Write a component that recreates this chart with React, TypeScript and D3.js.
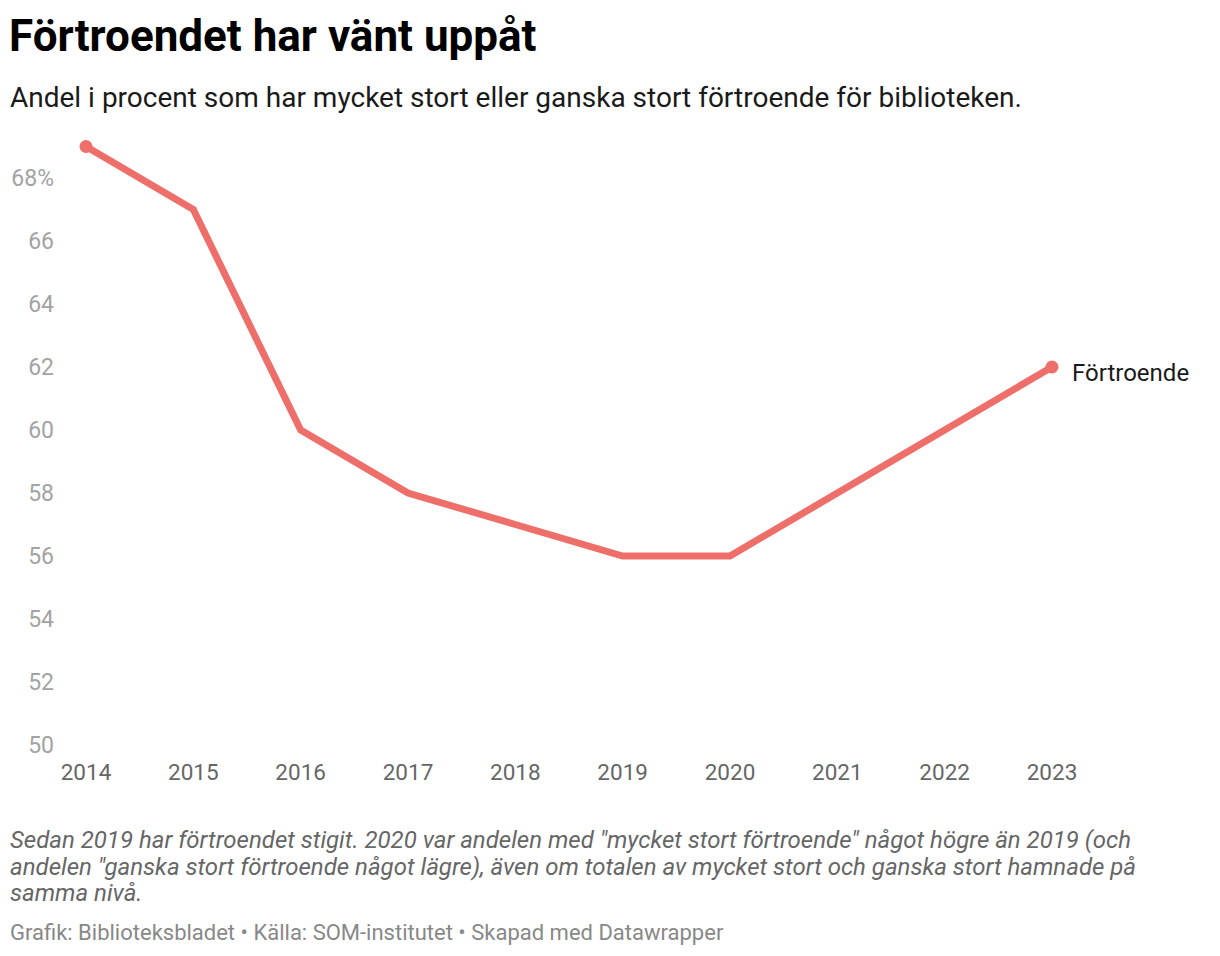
import React from "react";
import * as d3 from "d3";

const years = [2014, 2015, 2016, 2017, 2018, 2019, 2020, 2021, 2022, 2023];
const values = [69, 67, 60, 58, 57, 56, 56, 58, 60, 62];
const yTicks = [50, 52, 54, 56, 58, 60, 62, 64, 66, 68];
const seriesName = "Förtroende";

const title = "Förtroendet har vänt uppåt";
const subtitle = "Andel i procent som har mycket stort eller ganska stort förtroende för biblioteken.";
const notes = [
  'Sedan 2019 har förtroendet stigit. 2020 var andelen med "mycket stort förtroende" något högre än 2019 (och',
  'andelen "ganska stort förtroende något lägre), även om totalen av mycket stort och ganska stort hamnade på',
  "samma nivå.",
];
const footer = "Grafik: Biblioteksbladet • Källa: SOM-institutet • Skapad med Datawrapper";

export default function App() {
  const W = 1220;
  const H = 956;
  const x = d3.scaleLinear().domain([2014, 2023]).range([86, 1052]);
  const y = d3.scaleLinear().domain([50, 68]).range([745, 178]);
  const line = d3
    .line<number>()
    .x((_, i) => x(years[i]))
    .y((d) => y(d));
  const color = "#ee6f6a";
  const font = "Roboto, sans-serif";
  const last = values.length - 1;

  return (
    <div style={{ position: "absolute", left: 0, top: 0, width: W, height: H, background: "#fff" }}>
      <svg width={W} height={H} style={{ display: "block", fontFamily: font }}>
        <text x={9} y={51} fontSize={44} fontWeight={700} fill="#000">
          {title}
        </text>
        <text x={10} y={107} fontSize={28} fill="#1a1a1a">
          {subtitle}
        </text>
        {yTicks.map((t) => (
          <text
            key={t}
            x={54}
            y={y(t) + 8}
            fontSize={23}
            fill="#a3a3a3"
            textAnchor="end"
          >
            {t === 68 ? "68%" : t}
          </text>
        ))}
        {years.map((yr) => (
          <text key={yr} x={x(yr)} y={780} fontSize={22.5} fill="#666" textAnchor="middle">
            {yr}
          </text>
        ))}
        <path d={line(values) || ""} fill="none" stroke={color} strokeWidth={7} strokeLinejoin="miter" />
        <circle cx={x(years[0])} cy={y(values[0])} r={6.5} fill={color} />
        <circle cx={x(years[last])} cy={y(values[last])} r={6.5} fill={color} />
        <text x={x(years[last]) + 20} y={y(values[last]) + 14} fontSize={24} fill="#1a1a1a">
          {seriesName}
        </text>
        {notes.map((n, i) => (
          <text key={i} x={10} y={848 + i * 26.5} fontSize={24} fontStyle="italic" fill="#666">
            {n}
          </text>
        ))}
        <text x={10} y={940} fontSize={22} fill="#888">
          {footer}
        </text>
      </svg>
    </div>
  );
}
